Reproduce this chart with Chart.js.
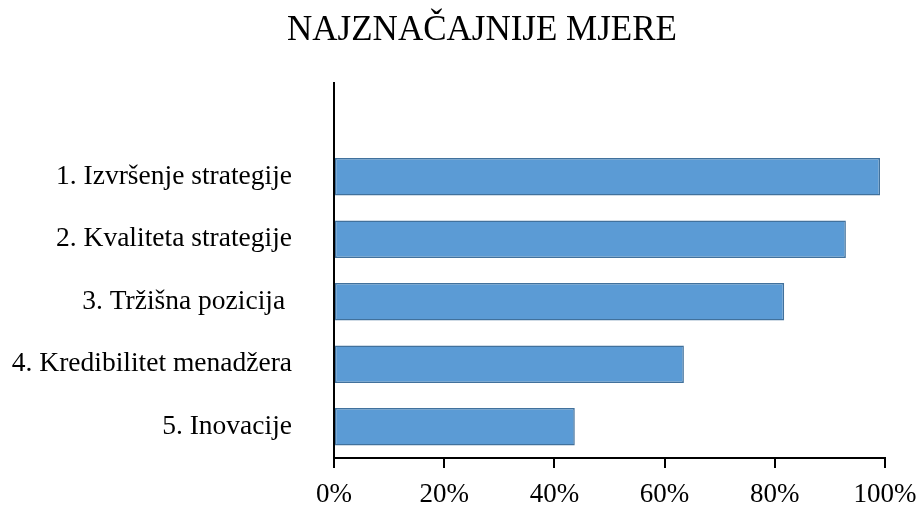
<!DOCTYPE html>
<html>
<head>
<meta charset="utf-8">
<script src="https://cdn.jsdelivr.net/npm/chart.js@4/dist/chart.umd.min.js"></script>
<style>
  html, body { margin: 0; padding: 0; background: #fff; }
  #c { display: block; }
</style>
</head>
<body>
<canvas id="c" width="920" height="506"></canvas>
<script>
const chartTitle = 'NAJZNAČAJNIJE MJERE';
const categories = ['', '1. Izvršenje strategije', '2. Kvaliteta strategije', '3. Tržišna pozicija ', '4. Kredibilitet menadžera', '5. Inovacije'];
const values = [null, 99.1, 92.9, 81.7, 63.5, 43.7];
const xTicks = [0, 20, 40, 60, 80, 100];

const FONT = '"Liberation Serif", "Times New Roman", serif';

const titlePlugin = {
  id: 'customTitle',
  afterDraw(chart) {
    const ctx = chart.ctx;
    ctx.save();
    ctx.font = '35px ' + FONT;
    ctx.fillStyle = '#000';
    ctx.textAlign = 'center';
    ctx.textBaseline = 'middle';
    ctx.fillText(chartTitle, 482, 31);
    ctx.restore();
  }
};

new Chart(document.getElementById('c'), {
  type: 'bar',
  data: {
    labels: categories,
    datasets: [{
      data: values,
      backgroundColor: '#5B9BD5',
      borderColor: '#41719C',
      borderWidth: 1.5,
      borderSkipped: false,
      barPercentage: 0.6,
      categoryPercentage: 1.0
    }]
  },
  options: {
    indexAxis: 'y',
    responsive: false,
    animation: false,
    layout: { padding: { top: 83, right: 35, left: 0, bottom: 0 } },
    plugins: {
      legend: { display: false },
      title: { display: false },
      tooltip: { enabled: false }
    },
    scales: {
      y: {
        type: 'category',
        offset: true,
        grid: { display: false, drawTicks: false },
        border: { display: true, color: '#000', width: 2 },
        ticks: {
          color: '#000',
          padding: 42,
          font: { family: FONT, size: 27.5 }
        },
        afterFit(s) { s.width = 334; s.paddingTop = 0; s.paddingBottom = 0; }
      },
      x: {
        min: 0,
        max: 100,
        afterBuildTicks(s) { s.ticks = xTicks.map(v => ({ value: v })); },
        grid: { display: true, drawOnChartArea: false, drawTicks: true, tickLength: 10, color: '#000', lineWidth: 2 },
        border: { display: true, color: '#000', width: 2 },
        ticks: {
          color: '#000',
          padding: 11,
          maxRotation: 0,
          font: { family: FONT, size: 27 },
          callback: v => v + '%'
        },
        afterFit(s) { s.height = 48; s.paddingLeft = 0; s.paddingRight = 0; }
      }
    }
  },
  plugins: [titlePlugin]
});
</script>
</body>
</html>
